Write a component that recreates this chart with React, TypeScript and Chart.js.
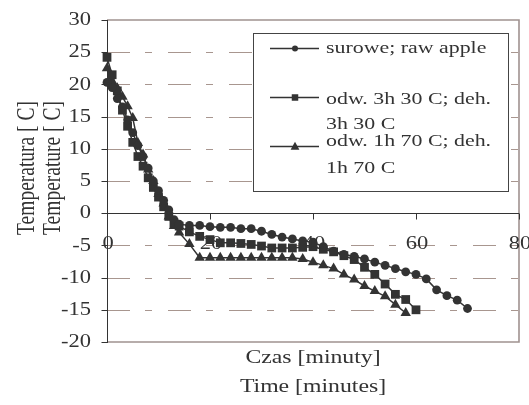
import React, { useEffect, useRef } from 'react';
import { Chart, registerables } from 'chart.js';

Chart.register(...registerables);

// ---------- data ----------
const seriesLabels = ['surowe; raw apple', 'odw. 3h 30 C; deh. 3h 30 C', 'odw. 1h 70 C; deh. 1h 70 C'];
const legendTextLines = [
  ['surowe; raw apple'],
  ['odw. 3h 30 C; deh.', '3h 30 C'],
  ['odw. 1h 70 C; deh.', '1h 70 C'],
];

const rawTime = [0, 1, 2, 3, 4, 5, 6, 7, 8, 9, 10, 11, 12, 13, 14,
  16, 18, 20, 22, 24, 26, 28, 30, 32, 34, 36, 38, 40, 42, 44, 46, 48, 50, 52, 54, 56, 58, 60, 62, 64, 66, 68, 70];
const rawTemp = [20.3, 19.5, 17.8, 16.5, 14.5, 12.5, 10.5, 8.8, 7.0, 5.0, 3.5, 2.0, 0.5, -1.0, -1.7,
  -1.9, -1.9, -2.1, -2.2, -2.2, -2.4, -2.4, -2.8, -3.3, -3.7, -4.0, -4.3, -4.5, -5.2, -5.9, -6.4, -6.7, -7.1, -7.6, -8.1, -8.6, -9.1, -9.5, -10.2, -11.9, -12.8, -13.5, -14.8];

const deh30Time = [0, 1, 2, 3, 4, 5, 6, 7, 8, 9, 10, 11, 12, 13, 14,
  16, 18, 20, 22, 24, 26, 28, 30, 32, 34, 36, 38, 40, 42, 44, 46, 48, 50, 52, 54, 56, 58, 60];
const deh30Temp = [24.2, 21.5, 19.0, 16.0, 13.5, 11.0, 8.8, 7.3, 5.5, 4.0, 2.5, 1.0, -0.5, -1.5, -2.0,
  -2.9, -3.6, -4.1, -4.6, -4.6, -4.7, -4.85, -5.1, -5.4, -5.4, -5.4, -5.3, -5.2, -5.6, -6.0, -6.6, -7.2, -8.4, -9.5, -11.0, -12.6, -13.4, -15.0];

const deh70Time = [0, 1, 2, 3, 4, 5, 6, 7, 8, 9, 10, 11, 12, 13, 14,
  16, 18, 20, 22, 24, 26, 28, 30, 32, 34, 36, 38, 40, 42, 44, 46, 48, 50, 52, 54, 56, 58];
const deh70Temp = [22.5, 20.5, 19.4, 18.1, 16.6, 14.8, 10.9, 9.1, 6.8, 5.0, 3.0, 1.5, -0.5, -2.0, -3.0,
  -4.8, -6.9, -6.9, -6.9, -6.9, -6.9, -6.9, -6.9, -6.9, -6.9, -6.9, -7.1, -7.6, -8.1, -8.6, -9.5, -10.3, -11.3, -12.1, -12.9, -14.2, -15.5];

const xTickValues = [0, 20, 40, 60, 80];
const yTickValues = [30, 25, 20, 15, 10, 5, 0, -5, -10, -15, -20];
const xTitles = ['Czas [minuty]', 'Time [minutes]'];
const yTitles = ['Temperatura [ C]', 'Temperature [ C]'];

// ---------- styles ----------
const FONT = '"Liberation Serif", "Times New Roman", serif';
const SX = 1.25;
const INK = '#333333';
const GRID = '#a8968f';
const FRAME = '#a09290';
const pointStyles = ['circle', 'rect', 'triangle'];
const pointRadii = [4.4, 6.2, 6];

function drawText(ctx: CanvasRenderingContext2D, text: string, x: number, y: number, align: CanvasTextAlign, size: number, rotate = false) {
  ctx.save();
  ctx.translate(x, y);
  ctx.scale(SX, 1);
  if (rotate) ctx.rotate(-Math.PI / 2);
  ctx.font = `${size}px ${FONT}`;
  ctx.textAlign = align;
  ctx.textBaseline = 'middle';
  ctx.fillStyle = INK;
  ctx.fillText(text, 0, 0);
  ctx.restore();
}

function drawMarker(ctx: CanvasRenderingContext2D, style: string, x: number, y: number, size: number) {
  ctx.beginPath();
  if (style === 'circle') {
    ctx.arc(x, y, size / 2, 0, Math.PI * 2);
  } else if (style === 'rect') {
    ctx.rect(x - size / 2, y - size / 2, size, size);
  } else {
    ctx.moveTo(x, y - size * 0.6);
    ctx.lineTo(x + size * 0.55, y + size * 0.4);
    ctx.lineTo(x - size * 0.55, y + size * 0.4);
    ctx.closePath();
  }
  ctx.fillStyle = INK;
  ctx.fill();
}

const decorPlugin = {
  id: 'decor',
  beforeDatasetsDraw(chart: any) {
    const { ctx, chartArea: a, scales } = chart;
    const ys = scales.y;
    const xs = scales.x;
    ctx.save();
    // dashed gridlines
    ctx.strokeStyle = GRID;
    ctx.lineWidth = 1;
    ctx.setLineDash([23, 15, 7, 16]);
    yTickValues.forEach((v) => {
      if (v === 30 || v === 0 || v === -20) return;
      const y = Math.round(ys.getPixelForValue(v)) + 0.5;
      ctx.beginPath();
      ctx.moveTo(a.left, y);
      ctx.lineTo(a.right, y);
      ctx.stroke();
    });
    ctx.setLineDash([]);
    // frame
    ctx.strokeStyle = FRAME;
    ctx.lineWidth = 1.6;
    ctx.beginPath();
    ctx.moveTo(a.left, a.top);
    ctx.lineTo(a.right, a.top);
    ctx.lineTo(a.right, a.bottom);
    ctx.lineTo(a.left, a.bottom);
    ctx.stroke();
    // y axis line and ticks
    ctx.strokeStyle = INK;
    ctx.lineWidth = 1;
    const lx = Math.round(xs.getPixelForValue(0)) + 0.5;
    ctx.beginPath();
    ctx.moveTo(lx, a.top);
    ctx.lineTo(lx, a.bottom + 1);
    yTickValues.forEach((v) => {
      const y = Math.round(ys.getPixelForValue(v)) + 0.5;
      ctx.moveTo(lx - 6, y);
      ctx.lineTo(lx, y);
    });
    ctx.stroke();
    // x axis line at 0
    const y0 = Math.round(ys.getPixelForValue(0)) + 0.5;
    ctx.beginPath();
    ctx.moveTo(a.left, y0);
    ctx.lineTo(a.right, y0);
    xTickValues.forEach((v) => {
      const x = Math.round(xs.getPixelForValue(v)) + 0.5;
      ctx.moveTo(x, y0);
      ctx.lineTo(x, y0 + 6);
    });
    ctx.stroke();
    ctx.restore();
  },
  afterDraw(chart: any) {
    const { ctx, scales } = chart;
    const ys = scales.y;
    const xs = scales.x;
    ctx.save();
    // y tick labels
    yTickValues.forEach((v) => {
      drawText(ctx, String(v), 91, ys.getPixelForValue(v) + 0.5, 'right', 18);
    });
    // x tick labels (drawn at the -5 level like the original)
    xTickValues.forEach((v) => {
      drawText(ctx, String(v), xs.getPixelForValue(v) + 1, ys.getPixelForValue(-5) - 1, 'center', 18);
    });
    // axis titles
    drawText(ctx, xTitles[0], 313, 358, 'center', 19);
    drawText(ctx, xTitles[1], 313, 387, 'center', 19);
    drawText(ctx, yTitles[0], 28, 168, 'center', 19.5, true);
    drawText(ctx, yTitles[1], 54, 168, 'center', 19.5, true);

    // legend
    const bx = 253, by = 33, bw = 255, bh = 158;
    ctx.fillStyle = '#ffffff';
    ctx.fillRect(bx, by, bw, bh);
    ctx.strokeStyle = '#444444';
    ctx.lineWidth = 1;
    ctx.strokeRect(bx + 0.5, by + 0.5, bw, bh);
    const lineYs = [48, 97, 146];
    const textYs = [[48], [99, 124], [141, 168]];
    const markerSizes = [6, 6.5, 8];
    chart.data.datasets.forEach((ds: any, i: number) => {
      const ly = lineYs[i] + 0.5;
      ctx.strokeStyle = INK;
      ctx.lineWidth = 1.5;
      ctx.beginPath();
      ctx.moveTo(270, ly);
      ctx.lineTo(319, ly);
      ctx.stroke();
      drawMarker(ctx, pointStyles[i], 295, ly, markerSizes[i]);
      legendTextLines[i].forEach((t, j) => {
        drawText(ctx, t, 326, textYs[i][j], 'left', 17.5);
      });
    });
    ctx.restore();
  },
};

function makeData(xsArr: number[], ysArr: number[]) {
  return xsArr.map((x, i) => ({ x, y: ysArr[i] }));
}

export default function App() {
  const ref = useRef<HTMLCanvasElement | null>(null);
  useEffect(() => {
    if (!ref.current) return;
    const series = [
      makeData(rawTime, rawTemp),
      makeData(deh30Time, deh30Temp),
      makeData(deh70Time, deh70Temp),
    ];
    const chart = new Chart(ref.current, {
      type: 'scatter',
      data: {
        datasets: series.map((d, i) => ({
          label: seriesLabels[i],
          data: d,
          showLine: true,
          borderColor: INK,
          backgroundColor: INK,
          borderWidth: 1.5,
          pointStyle: pointStyles[i] as any,
          pointRadius: pointRadii[i],
          pointBackgroundColor: INK,
          pointBorderColor: INK,
          pointBorderWidth: 0,
          clip: false as any,
          tension: 0,
        })),
      },
      options: {
        animation: false,
        responsive: true,
        maintainAspectRatio: false,
        layout: { padding: { left: 107, top: 20, right: 10, bottom: 63 } },
        plugins: { legend: { display: false }, tooltip: { enabled: false } },
        scales: {
          x: {
            type: 'linear',
            min: 0,
            max: 80,
            ticks: { display: false, stepSize: 20 },
            grid: { display: false },
            border: { display: false },
            afterFit: (s: any) => { s.height = 0; },
          },
          y: {
            type: 'linear',
            min: -20,
            max: 30,
            ticks: { display: false, stepSize: 5 },
            grid: { display: false },
            border: { display: false },
            afterFit: (s: any) => { s.width = 0; },
          },
        },
      },
      plugins: [decorPlugin],
    });
    return () => chart.destroy();
  }, []);
  return (
    <div style={{ position: 'absolute', left: 0, top: 0, width: 529, height: 405, background: '#fff' }}>
      <canvas ref={ref} />
    </div>
  );
}
